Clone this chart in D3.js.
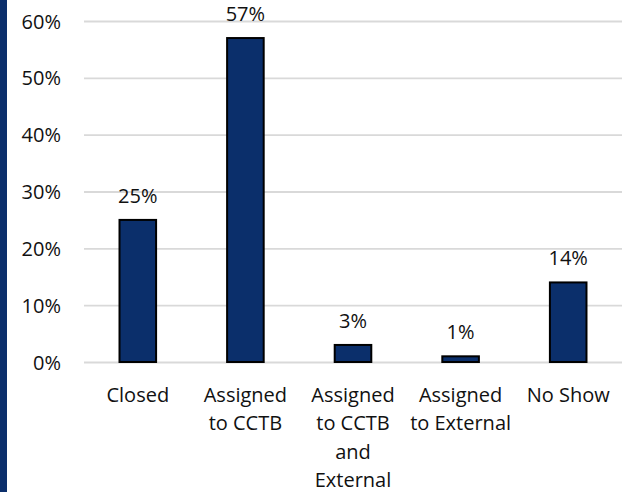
<!DOCTYPE html>
<html>
<head>
<meta charset="utf-8">
<script src="https://cdn.jsdelivr.net/npm/d3@7"></script>
<style>
  html, body { margin: 0; padding: 0; background: #fff; }
  svg text { font-family: "Open Sans", sans-serif; fill: #111; }
</style>
</head>
<body>
<svg id="chart" width="635" height="492"></svg>
<script>
// Share of cases by outcome (percent)
const categories = [
  ["Closed"],
  ["Assigned", "to CCTB"],
  ["Assigned", "to CCTB", "and", "External"],
  ["Assigned", "to External"],
  ["No Show"]
];
const values = [25, 57, 3, 1, 14];
const yTicks = [0, 10, 20, 30, 40, 50, 60];

const svg = d3.select("#chart");
const W = 635, H = 492;
const margin = { left: 84, right: 13, top: 21, bottom: 130 };
const fontSize = 20;

// Dark accent band along the left edge
svg.append("rect").attr("x", 0).attr("y", 0).attr("width", 7).attr("height", H)
  .attr("fill", "#0b2f6b");

const x = d3.scaleBand()
  .domain(d3.range(categories.length))
  .range([margin.left, W - margin.right])
  .paddingInner(0.66).paddingOuter(0.33);

const y = d3.scaleLinear().domain([0, 60]).range([H - margin.bottom, margin.top]);

// Gridlines and y-axis labels
const yAxis = d3.axisLeft(y)
  .tickValues(yTicks)
  .tickSize(-(W - margin.right - margin.left))
  .tickPadding(23)
  .tickFormat(d => d + "%");

const gy = svg.append("g").attr("transform", `translate(${margin.left},0)`).call(yAxis);
gy.select(".domain").remove();
gy.selectAll(".tick line").attr("stroke", "#d9d9d9").attr("stroke-width", 1.8);
gy.selectAll(".tick text").attr("font-size", fontSize).attr("dy", "0.35em")
  .attr("fill", "#111").style("font-family", "'Open Sans', sans-serif");

// Bars
svg.append("g").selectAll("rect").data(values).join("rect")
  .attr("x", (d, i) => x(i))
  .attr("y", d => y(d))
  .attr("width", x.bandwidth())
  .attr("height", d => y(0) - y(d))
  .attr("fill", "#0b2f6b")
  .attr("stroke", "#000")
  .attr("stroke-width", 2);

// Value labels
svg.append("g").selectAll("text").data(values).join("text")
  .attr("x", (d, i) => x(i) + x.bandwidth() / 2)
  .attr("y", d => y(d) - 17)
  .attr("text-anchor", "middle")
  .attr("font-size", fontSize)
  .text(d => d + "%");

// Category labels, one line per tspan
const lab = svg.append("g").selectAll("text").data(categories).join("text")
  .attr("x", (d, i) => x(i) + x.bandwidth() / 2)
  .attr("y", y(0) + 40)
  .attr("text-anchor", "middle")
  .attr("font-size", fontSize);
lab.selectAll("tspan").data(d => d).join("tspan")
  .attr("x", function () { return this.parentNode.getAttribute("x"); })
  .attr("dy", (d, i) => i === 0 ? 0 : 28.3)
  .text(d => d);
</script>
</body>
</html>
